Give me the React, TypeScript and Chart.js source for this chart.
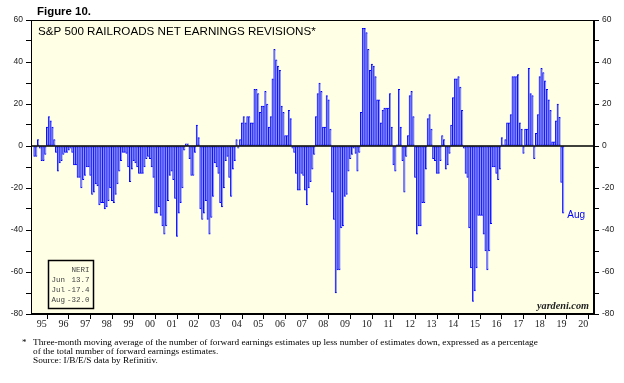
import React, { useEffect, useRef } from 'react';
import { Chart, registerables } from 'chart.js';

Chart.register(...registerables);

// Monthly NERI values (Jan .. Dec), starting 1995
const y1995 = [null, null, -5, -5, 3, -1, -7, -7, -4, 9, 14, 12];
const y1996 = [9, 3, -3, -12, -8, -7, -4, -3, -3, -2, -1, -3];
const y1997 = [-9, -9, -15, -15, -20, -16, -14, -10, -10, -14, -23, -22];
const y1998 = [-18, -19, -28, -27, -27, -30, -29, -26, -20, -26, -27, -23];
const y1999 = [-18, -12, -7, -3, -3, -3.5, -10, -17, -11, -7, -8, -10];
const y2000 = [-13, -13, -13, -10, -6, -5, -6, -10, -15, -32, -32, -29];
const y2001 = [-33, -38, -42, -38, -26, -14, -12, -16, -25, -43, -32, -27];
const y2002 = [-20, -2, 1, 1, -6, -14, -14, -3, 10, 4, -30, -35];
const y2003 = [-32, -26, -35, -42, -34, -24, -8, -10, -13, -27, -29, -20];
const y2004 = [-7, -5, -15, -24, -11, -7, 3, -1, 3, 11, 14, 11];
const y2005 = [14, 14, 11, 11, 27, 27, 25, 16, 19, 19, 26, 20];
const y2006 = [9, 14, 32, 46, 41, 38, 36, 19, 16, 5, 5, 17];
const y2007 = [13, -1, -3, -13, -21, -21, -13, -14, -21, -28, -20, -17];
const y2008 = [-11, -4, 14, 25, 30, 26, 9, 9, 24, 22, 8, -22];
const y2009 = [-35, -70, -59, -59, -39, -38, -24, -23, -12, -6, -4, -1];
const y2010 = [-3.5, -12, -3, 16, 56, 56, 54, 46, 36, 39, 38, 33];
const y2011 = [22, 22, 11, 17, 18, 18, 18, 25, 9, -9, -12, 0.5];
const y2012 = [27, 9, -7, -22, -5, 5, 24, 26, 14, -15, -42, -38];
const y2013 = [-38, -27, -27, -11, 13, 15, 8, -6, -7, -13, -13, -7];
const y2014 = [5, 3, -11, -9, -3.5, 10, 23, 32, 32, 33, 28, 17];
const y2015 = [-1, -13, -15, -39, -58, -74, -69, -58, -33, -33, -33, -42];
const y2016 = [-50, -59, -50, -37, -10, -10, -13, -16, -11, 4, 0.5, 3];
const y2017 = [11, 11, 15, 33, 33, 33, 34, 11, 8, -3.5, 8, 8];
const y2018 = [37, 25, 24, -6, 6, 15, 33, 37, 35, 31, 27, 22];
const y2019 = [17, 2, 2, 12, 20, 13.7, -17.4, -32.0];

const yearLabels = ['95', '96', '97', '98', '99', '00', '01', '02', '03', '04', '05', '06', '07',
  '08', '09', '10', '11', '12', '13', '14', '15', '16', '17', '18', '19', '20'];

const legendRows = [
  ['Jun', '13.7'],
  ['Jul', '-17.4'],
  ['Aug', '-32.0'],
];

const footnoteLines = [
  'Three-month moving average of the number of forward earnings estimates up less number of estimates down, expressed as a percentage',
  'of the total number of forward earnings estimates.',
  'Source: I/B/E/S data by Refinitiv.',
];

const allValues: (number | null)[] = [
  ...y1995, ...y1996, ...y1997, ...y1998, ...y1999, ...y2000, ...y2001, ...y2002, ...y2003,
  ...y2004, ...y2005, ...y2006, ...y2007, ...y2008, ...y2009, ...y2010, ...y2011, ...y2012,
  ...y2013, ...y2014, ...y2015, ...y2016, ...y2017, ...y2018, ...y2019,
];

const SANS = '"Liberation Sans", Arial, sans-serif';
const SERIF = '"Liberation Serif", "Times New Roman", serif';
const MONO = '"Liberation Mono", "Courier New", monospace';

function fitText(ctx: CanvasRenderingContext2D, text: string, x: number, yc: number, width: number,
  family: string, style: string, color: string) {
  ctx.font = `${style} 10px ${family}`;
  const w = ctx.measureText(text).width;
  const size = (10 * width) / w;
  ctx.font = `${style} ${size.toFixed(2)}px ${family}`;
  ctx.textBaseline = 'middle';
  ctx.textAlign = 'left';
  ctx.fillStyle = color;
  ctx.fillText(text, x, yc);
}

const decorPlugin = {
  id: 'decor',
  beforeDraw(chart: any) {
    const { ctx, chartArea: a } = chart;
    ctx.save();
    ctx.fillStyle = '#ffffff';
    ctx.fillRect(0, 0, chart.width, chart.height);
    ctx.fillStyle = '#ffffe6';
    ctx.fillRect(a.left, a.top, a.right - a.left, a.bottom - a.top);
    ctx.restore();
  },
  afterDatasetsDraw(chart: any) {
    const { ctx, chartArea: a, scales } = chart;
    const y0 = scales.y.getPixelForValue(0);
    ctx.save();
    ctx.strokeStyle = '#000';
    ctx.lineWidth = 1.5;
    ctx.beginPath();
    ctx.moveTo(a.left, y0);
    ctx.lineTo(a.right, y0);
    ctx.stroke();
    ctx.lineWidth = 1;
    ctx.strokeRect(a.left + 0.5, a.top + 0.5, a.right - a.left - 1, a.bottom - a.top - 1);
    ctx.restore();
  },
  afterDraw(chart: any) {
    const { ctx, scales } = chart;
    ctx.save();
    fitText(ctx, 'Figure 10.', 37, 12, 54, SANS, 'bold', '#000');
    fitText(ctx, 'S&P 500 RAILROADS NET EARNINGS REVISIONS*', 38, 32, 278, SANS, 'normal', '#000');

    // NERI box
    ctx.strokeStyle = '#000';
    ctx.lineWidth = 1.5;
    ctx.strokeRect(48.5, 260.5, 45, 48);
    ctx.font = `7.5px ${MONO}`;
    ctx.fillStyle = '#444';
    ctx.textBaseline = 'middle';
    ctx.textAlign = 'right';
    ctx.fillText('NERI', 89.5, 270);
    legendRows.forEach((r, i) => {
      const yy = 280.5 + i * 10;
      ctx.textAlign = 'left';
      ctx.fillText(r[0], 51.5, yy);
      ctx.textAlign = 'right';
      ctx.fillText(r[1], 89.5, yy);
    });

    // Aug label next to last bar
    const lastIdx = allValues.length - 1;
    const xl = scales.x.getPixelForValue(lastIdx) + 4;
    const yl = scales.y.getPixelForValue(allValues[lastIdx] as number) + 2;
    ctx.textAlign = 'left';
    ctx.font = `10px ${SANS}`;
    ctx.fillStyle = '#0000ff';
    ctx.fillText('Aug', xl, yl);

    fitText(ctx, 'yardeni.com', 537, 306, 52, SERIF, 'italic bold', '#222');

    // Footnote
    ctx.font = `9px ${SERIF}`;
    ctx.fillStyle = '#000';
    ctx.textAlign = 'left';
    ctx.fillText('*', 22, 343);
    fitText(ctx, footnoteLines[0], 33, 343, 505, SERIF, 'normal', '#000');
    ctx.fillText(footnoteLines[1], 33, 352);
    ctx.fillText(footnoteLines[2], 33, 361);
    ctx.restore();
  },
};

export default function App() {
  const ref = useRef<HTMLCanvasElement | null>(null);
  useEffect(() => {
    document.body.style.margin = '0';
    const canvas = ref.current;
    if (!canvas) return;
    const points = allValues
      .map((v, i) => (v == null ? null : { x: i, y: v }))
      .filter((p) => p !== null) as { x: number; y: number }[];

    const yTicks = {
      stepSize: 10,
      autoSkip: false,
      color: '#222',
      font: { family: SANS, size: 8.5 },
      callback: (v: any) => (Number(v) % 20 === 0 ? String(v) : ''),
    };

    const chart = new Chart(canvas, {
      type: 'bar',
      data: {
        datasets: [
          {
            data: points as any,
            backgroundColor: '#8f97f6',
            borderColor: '#0000ff',
            borderWidth: { left: 1, right: 0, top: 1, bottom: 1 } as any,
            borderSkipped: false as any,
            barPercentage: 1,
            categoryPercentage: 1,
          },
        ],
      },
      options: {
        animation: false,
        responsive: false,
        devicePixelRatio: 1,
        layout: { padding: { top: 20, bottom: 49, left: 0, right: 0 } },
        plugins: { legend: { display: false }, tooltip: { enabled: false } },
        scales: {
          x: {
            type: 'linear',
            min: 0,
            max: 312,
            offset: false,
            afterBuildTicks: (s: any) => {
              const t: any[] = [];
              for (let k = 0; k <= 26; k++) {
                t.push({ value: 12 * k });
                if (k < 26) t.push({ value: 12 * k + 6 });
              }
              s.ticks = t;
            },
            ticks: {
              autoSkip: false,
              maxRotation: 0,
              minRotation: 0,
              padding: -1,
              color: '#222',
              font: { family: SERIF, size: 10 },
              callback: (v: any) => {
                const n = Number(v);
                return n % 12 === 6 ? yearLabels[(n - 6) / 12] : '';
              },
            },
            grid: {
              drawOnChartArea: false,
              tickLength: 5,
              tickColor: (c: any) => (c.tick && c.tick.value % 12 === 0 ? '#000' : 'rgba(0,0,0,0)'),
            },
            border: { display: true, color: '#000', width: 1 },
            afterFit: (s: any) => {
              s.height = 20;
            },
          },
          y: {
            position: 'left',
            min: -80,
            max: 60,
            ticks: { ...yTicks, padding: 3 },
            grid: { drawOnChartArea: false, tickLength: 5, tickColor: '#000' },
            border: { display: true, color: '#000', width: 1 },
            afterFit: (s: any) => {
              s.width = 31;
            },
          },
          y2: {
            position: 'right',
            min: -80,
            max: 60,
            ticks: { ...yTicks, padding: 3 },
            grid: { drawOnChartArea: false, tickLength: 5, tickColor: '#000' },
            border: { display: true, color: '#000', width: 1 },
            afterFit: (s: any) => {
              s.width = 30;
            },
          },
        },
      } as any,
      plugins: [decorPlugin],
    });
    return () => chart.destroy();
  }, []);

  return (
    <div style={{ width: 624, height: 383, position: 'relative', background: '#fff' }}>
      <canvas ref={ref} width={624} height={383} style={{ display: 'block', width: 624, height: 383 }} />
    </div>
  );
}
